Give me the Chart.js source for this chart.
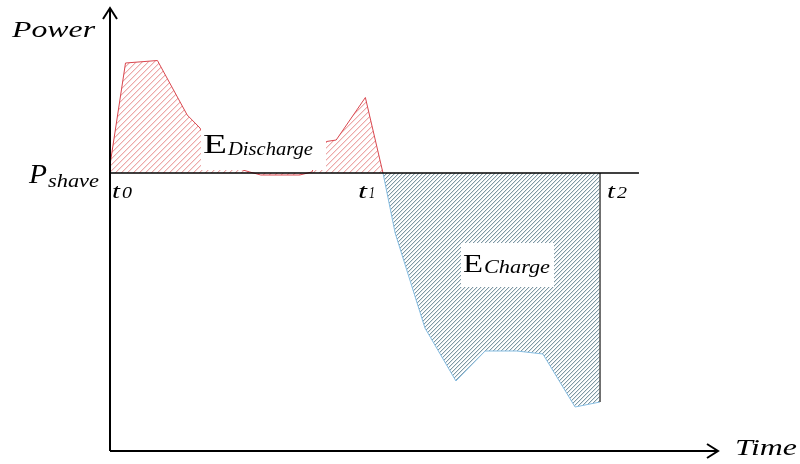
<!DOCTYPE html>
<html>
<head>
<meta charset="utf-8">
<script src="https://cdn.jsdelivr.net/npm/chart.js@4/dist/chart.umd.min.js"></script>
<style>
html,body{margin:0;padding:0;background:#fff;}
#wrap{width:800px;height:464px;position:relative;}
</style>
</head>
<body>
<div id="wrap"><canvas id="c" width="800" height="464"></canvas></div>
<script>
// ---- data (time in arbitrary units, power relative to P_shave) ----
const dischargeTime  = [0, 2.55, 7.8, 12.7, 14.8, 17.3, 23.0, 24.8, 31.2, 33.2, 35.6, 37.2, 42.0, 44.9];
const dischargePower = [8, 110, 112.5, 58, 45, 11, 1, -2, -2, 1, 31.5, 33, 75.5, 0];
const chargeTime  = [44.9, 46.9, 51.8, 56.9, 61.7, 66.9, 71.2, 76.5, 80.6, 80.6];
const chargePower = [0, -60, -155, -208, -178, -178, -181, -234, -229, 0];
const shaveTime  = [0, 87];
const shavePower = [0, 0];
const tickLabels = ['0', '1', '2'];

function pts(xs, ys){ return xs.map((x,i)=>({x:x, y:ys[i]})); }

const cv = document.getElementById('c');
const ctx0 = cv.getContext('2d');

// hatch tile drawn with fillRect pixels (diagonal "/" lines)
function hatch(color, soft, size){
  const c = document.createElement('canvas');
  c.width = size; c.height = size;
  const g = c.getContext('2d');
  g.fillStyle = '#ffffff';
  g.fillRect(0, 0, size, size);
  if (soft) {
    g.fillStyle = soft;
    for (let i = 0; i < size; i++) {
      g.fillRect((i + 1) % size, size - 1 - i, 1, 1);
    }
  }
  g.fillStyle = color;
  for (let i = 0; i < size; i++) {
    g.fillRect(i, size - 1 - i, 1, 1);
  }
  return ctx0.createPattern(c, 'repeat');
}

function stretched(ctx, text, x, baseline, font, targetW){
  ctx.save();
  ctx.font = font;
  const w = ctx.measureText(text).width;
  const sx = targetW / w;
  ctx.translate(x, baseline);
  ctx.scale(sx, 1);
  ctx.fillStyle = '#000';
  ctx.textBaseline = 'alphabetic';
  ctx.textAlign = 'left';
  ctx.fillText(text, 0, 0);
  ctx.restore();
}

const SERIF = '"Liberation Serif"';

const overlay = {
  id: 'overlay',
  afterDatasetsDraw(chart){
    const ctx = chart.ctx;
    const xs = chart.scales.x, ys = chart.scales.y;
    const a = chart.chartArea;
    const x0 = xs.getPixelForValue(0);
    const yb = a.bottom - 1;
    ctx.save();
    // label boxes
    ctx.fillStyle = '#fff';
    ctx.fillRect(201, 128, 125, 42);
    ctx.fillRect(461, 243, 93, 44);
    // P_shave line
    ctx.strokeStyle = '#000'; ctx.lineWidth = 1.6;
    ctx.beginPath();
    ctx.moveTo(xs.getPixelForValue(shaveTime[0]), ys.getPixelForValue(shavePower[0]));
    ctx.lineTo(xs.getPixelForValue(shaveTime[1]), ys.getPixelForValue(shavePower[1]));
    ctx.stroke();
    // axes
    ctx.lineWidth = 2;
    ctx.beginPath();
    ctx.moveTo(x0, yb); ctx.lineTo(x0, a.top);
    ctx.moveTo(x0, yb); ctx.lineTo(a.right, yb);
    ctx.stroke();
    // arrow heads
    ctx.beginPath();
    ctx.moveTo(x0 - 7, a.top + 11); ctx.lineTo(x0, a.top); ctx.lineTo(x0 + 7, a.top + 11);
    ctx.moveTo(a.right - 11, yb - 7); ctx.lineTo(a.right, yb); ctx.lineTo(a.right - 11, yb + 7);
    ctx.stroke();
    ctx.restore();

    // texts
    stretched(ctx, 'Power', 12, 37, 'italic 23px ' + SERIF, 83);
    stretched(ctx, 'Time', 735, 455, 'italic 24px ' + SERIF, 62);
    stretched(ctx, 'P', 29, 183, 'italic 28px ' + SERIF, 18);
    stretched(ctx, 'shave', 48, 187, 'italic 18px ' + SERIF, 51);
    const tW = [[8,10],[9,6],[8,10]];
    const lefts = [112, 358, 607];
    tickLabels.forEach((lab,i)=>{
      const left = lefts[i];
      stretched(ctx, 't', left, 198, 'italic 22px ' + SERIF, tW[i][0]);
      stretched(ctx, lab, left + tW[i][0] + 2, 198, 'italic 16px ' + SERIF, tW[i][1]);
    });
    stretched(ctx, 'E', 203, 153, '28px ' + SERIF, 24);
    stretched(ctx, 'Discharge', 228, 155, 'italic 19px ' + SERIF, 85);
    stretched(ctx, 'E', 463, 272, '26px ' + SERIF, 20);
    stretched(ctx, 'Charge', 484, 273, 'italic 18px ' + SERIF, 66);
  }
};

const redHatch = hatch('#eda9a9', '#f8dede', 6);
const blueHatch = hatch('#7e97a2', '#dde6ea', 4);
const lastSeg = chargeTime.length - 2;

new Chart(ctx0, {
  type: 'scatter',
  data: {
    datasets: [
      {
        data: pts(dischargeTime, dischargePower),
        showLine: true,
        borderColor: '#d9474f',
        borderWidth: 1,
        backgroundColor: redHatch,
        fill: 'origin',
        pointRadius: 0,
        tension: 0
      },
      {
        data: pts(chargeTime, chargePower),
        showLine: true,
        borderColor: '#86bde2',
        borderWidth: 1,
        backgroundColor: blueHatch,
        fill: 'origin',
        pointRadius: 0,
        tension: 0,
        segment: {
          borderColor: c => c.p0DataIndex === lastSeg ? '#555555' : undefined,
          borderWidth: c => c.p0DataIndex === lastSeg ? 1.6 : undefined
        }
      }
    ]
  },
  options: {
    responsive: false,
    animation: false,
    layout: { padding: { left: 110, right: 82, top: 8, bottom: 12 } },
    scales: {
      x: { type: 'linear', min: 0, max: 100, display: false },
      y: { type: 'linear', min: -279, max: 165, display: false }
    },
    plugins: { legend: { display: false }, tooltip: { enabled: false } }
  },
  plugins: [overlay]
});
</script>
</body>
</html>
